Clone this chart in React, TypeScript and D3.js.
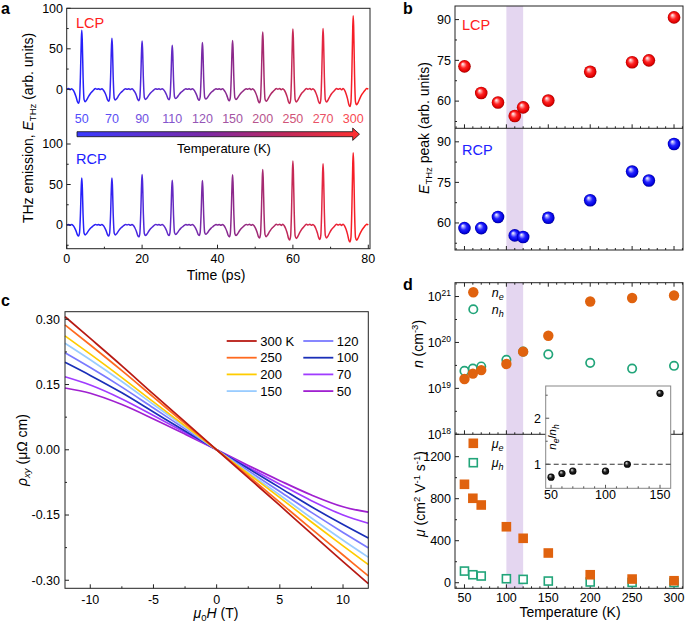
import React from 'react';
import * as d3 from 'd3';

const FONT = '"Liberation Sans", Arial, Helvetica, sans-serif';

// ---------- Panel a data ----------
const pulseTimes = [4, 12, 20, 28, 36, 44, 52, 60, 68, 76];
const tempLabelsA = ['50', '70', '90', '110', '120', '150', '200', '250', '270', '300'];
const lcpPeaks = [72.8, 63, 59.5, 54.5, 57.7, 60.2, 70.8, 74.3, 75, 90.8];
const rcpPeaks = [58.1, 58.1, 62.2, 55.4, 54.8, 61.9, 68.4, 79, 75.7, 89.2];
// single-pulse shape (offset in ps from the peak, value relative to the peak)
const pulseOffsets = [-4, -3.5, -3.1, -2.7, -2.3, -1.9, -1.5, -1.15, -0.85, -0.6, -0.35, -0.12, 0, 0.12, 0.35, 0.6, 0.9, 1.3, 1.8, 2.3, 2.8, 3.2, 3.6, 4];
const pulseShape = [0, 0.012, -0.006, 0.01, -0.012, -0.06, -0.13, -0.21, -0.235, -0.17, 0.25, 0.85, 1, 0.85, 0.2, -0.17, -0.21, -0.18, -0.12, -0.07, -0.035, -0.008, 0.012, 0];

// ---------- Panel b data ----------
const tempsB = [50, 70, 90, 110, 120, 150, 200, 250, 270, 300];
const lcpB = [72.8, 63, 59.5, 54.5, 57.7, 60.2, 70.8, 74.3, 75, 90.8];
const rcpB = [58.1, 58.1, 62.2, 55.4, 54.8, 61.9, 68.4, 79, 75.7, 89.2];

// ---------- Panel c data ----------
const fieldH = [-12, -10, -7.5, -5, -2.5, 0, 2.5, 5, 7.5, 10, 12];
const rhoLabels = ['300 K', '250', '200', '150', '120', '100', '70', '50'];
const rhoColors = ['#b81a14', '#ff6a1f', '#ffcc00', '#99ccff', '#7a7aff', '#1a2fb8', '#a03cff', '#a020d0'];
const rho300 = [0.306, 0.256, 0.193, 0.128, 0.064, 0, -0.064, -0.128, -0.193, -0.257, -0.308];
const rho250 = [0.287, 0.241, 0.182, 0.121, 0.060, 0, -0.060, -0.121, -0.182, -0.242, -0.290];
const rho200 = [0.262, 0.220, 0.166, 0.110, 0.055, 0, -0.055, -0.110, -0.166, -0.221, -0.264];
const rho150 = [0.245, 0.207, 0.157, 0.104, 0.052, 0, -0.052, -0.104, -0.157, -0.208, -0.247];
const rho120 = [0.223, 0.189, 0.144, 0.096, 0.048, 0, -0.048, -0.096, -0.144, -0.190, -0.2255];
const rho100 = [0.201, 0.171, 0.131, 0.087, 0.043, 0, -0.043, -0.087, -0.131, -0.172, -0.203];
const rho70 = [0.168, 0.149, 0.117, 0.079, 0.040, 0, -0.040, -0.079, -0.117, -0.150, -0.169];
const rho50 = [0.142, 0.130, 0.104, 0.071, 0.036, 0, -0.036, -0.071, -0.104, -0.131, -0.1435];
const rhoSeries = [rho300, rho250, rho200, rho150, rho120, rho100, rho70, rho50];

// ---------- Panel d data ----------
const tempsD = [50, 60, 70, 100, 120, 150, 200, 250, 300];
const ne = [1.6e19, 2.1e19, 2.5e19, 3.4e19, 6.3e19, 1.4e20, 7.8e20, 9.3e20, 1.05e21];
const nh = [2.4e19, 2.7e19, 3.0e19, 4.2e19, 6.3e19, 5.5e19, 3.6e19, 2.7e19, 3.1e19];
const mue = [937, 804, 740, 533, 423, 283, 76, 35, 19];
const muh = [111, 76, 64, 38, 32, 16, 7, 3, 2];
const tempsInset = [50, 60, 70, 100, 120, 150];
const ratioInset = [0.72, 0.8, 0.85, 0.85, 1.0, 2.54];

const ORANGE = '#e0620e';
const GREEN = '#22a57a';

function range(a: number, b: number, s: number) {
  const out: number[] = [];
  for (let v = a; v <= b + 1e-9; v += s) out.push(+v.toFixed(6));
  return out;
}

function buildTrace(peaks: number[]) {
  const pts: [number, number][] = [];
  pulseTimes.forEach((t0, i) => {
    pulseOffsets.forEach((o, j) => {
      if (i > 0 && j === 0) return;
      pts.push([t0 + o, peaks[i] * pulseShape[j]]);
    });
  });
  return pts;
}

const gradStops: [number, string][] = [
  [0, '#1f1fff'], [0.15, '#3322f0'], [0.3, '#5a2ad0'], [0.45, '#7a2aa4'],
  [0.6, '#962a7e'], [0.72, '#bb2a5c'], [0.85, '#e42640'], [1, '#ff1a1a'],
];
const gradInterp = d3.scaleLinear<string>().domain(gradStops.map(s => s[0])).range(gradStops.map(s => s[1])).interpolate(d3.interpolateRgb);

export default function App() {
  // Panel a scales
  const xA = d3.scaleLinear().domain([0, 80]).range([66.7, 368.3]);
  const yAu = d3.scaleLinear().domain([0, 100]).range([89.3, 8.3]);
  const yAl = d3.scaleLinear().domain([0, 100]).range([225, 144]);
  const lineAu = d3.line<[number, number]>().x(d => xA(d[0])).y(d => yAu(d[1])).curve(d3.curveMonotoneX);
  const lineAl = d3.line<[number, number]>().x(d => xA(d[0])).y(d => yAl(d[1])).curve(d3.curveMonotoneX);
  const traceL = buildTrace(lcpPeaks);
  const traceR = buildTrace(rcpPeaks);
  const aL = 66.7, aR = 370, aT = 8.3, aB = 248.7;

  // Panel b scales
  const xB = d3.scaleLinear().domain([38.7, 310.7]).range([455, 683]);
  const yBu = d3.scaleLinear().domain([50, 95]).range([128.3, 6]);
  const yBl = d3.scaleLinear().domain([50, 95]).range([250, 128.3]);

  // Panel c scales
  const xC = d3.scaleLinear().domain([-12, 12]).range([65, 368.3]);
  const yC = d3.scaleLinear().domain([-0.3185, 0.3175]).range([588.3, 311.7]);
  const lineC = d3.line<number>().x((_, i) => xC(fieldH[i])).y(d => yC(d)).curve(d3.curveMonotoneX);

  // Panel d scales
  const xD = xB;
  const yDn = d3.scaleLog().domain([1e18, 2e21]).range([434.3, 282.7]);
  const yDm = d3.scaleLinear().domain([-53, 1413]).range([588.3, 434.3]);
  const xI = d3.scaleLinear().domain([45.1, 159.8]).range([545.7, 670.7]);
  const yI = d3.scaleLinear().domain([0.478, 2.7]).range([488.3, 386]);

  const tickX10 = range(40, 310, 10);
  const tk = (v: number) => (v % 50 === 0 ? 4 : 2);

  const stroke = '#222';
  const fs = 12.5;

  return (
    <svg width={685} height={623} style={{ position: 'absolute', left: 0, top: 0, background: '#fff' }} fontFamily={FONT}>
      <defs>
        <linearGradient id="tgrad" gradientUnits="userSpaceOnUse" x1={xA(0)} x2={xA(80)} y1={0} y2={0}>
          {gradStops.map(([o, c], i) => <stop key={i} offset={o} stopColor={c} />)}
        </linearGradient>
        <linearGradient id="agrad" gradientUnits="userSpaceOnUse" x1={77} x2={359} y1={0} y2={0}>
          <stop offset={0} stopColor="#3a3aff" />
          <stop offset={0.45} stopColor="#7a2aa8" />
          <stop offset={0.75} stopColor="#c42a5a" />
          <stop offset={1} stopColor="#ff3030" />
        </linearGradient>
        <radialGradient id="sphRed" cx="0.5" cy="0.5" r="0.5" fx="0.35" fy="0.3">
          <stop offset={0} stopColor="#ffffff" />
          <stop offset={0.18} stopColor="#ffb0b0" />
          <stop offset={0.5} stopColor="#ff2424" />
          <stop offset={0.85} stopColor="#e00000" />
          <stop offset={1} stopColor="#a00000" />
        </radialGradient>
        <radialGradient id="sphBlue" cx="0.5" cy="0.5" r="0.5" fx="0.35" fy="0.3">
          <stop offset={0} stopColor="#ffffff" />
          <stop offset={0.18} stopColor="#b0b0ff" />
          <stop offset={0.5} stopColor="#2424ff" />
          <stop offset={0.85} stopColor="#0000dd" />
          <stop offset={1} stopColor="#000090" />
        </radialGradient>
        <radialGradient id="sphBlack" cx="0.5" cy="0.5" r="0.5" fx="0.35" fy="0.3">
          <stop offset={0} stopColor="#ffffff" />
          <stop offset={0.2} stopColor="#999" />
          <stop offset={0.5} stopColor="#222" />
          <stop offset={1} stopColor="#000" />
        </radialGradient>
      </defs>

      {/* ================= Panel a ================= */}
      <text x={1} y={14} fontSize={16} fontWeight="bold">a</text>
      <path d={lineAu(traceL) || ''} fill="none" stroke="url(#tgrad)" strokeWidth={1.5} />
      <path d={lineAl(traceR) || ''} fill="none" stroke="url(#tgrad)" strokeWidth={1.5} />
      <rect x={aL} y={aT} width={aR - aL} height={aB - aT} fill="none" stroke={stroke} strokeWidth={1} />
      {[100, 50, 0].map(v => (
        <g key={'au' + v}>
          <line x1={aL} x2={aL + 4} y1={yAu(v)} y2={yAu(v)} stroke={stroke} />
          <text x={63} y={yAu(v)} dy="0.35em" textAnchor="end" fontSize={fs}>{v}</text>
          <line x1={aL} x2={aL + 4} y1={yAl(v)} y2={yAl(v)} stroke={stroke} />
          <text x={63} y={yAl(v)} dy="0.35em" textAnchor="end" fontSize={fs}>{v}</text>
        </g>
      ))}
      {[75, 25].map(v => <line key={'amu' + v} x1={aL} x2={aL + 2} y1={yAu(v)} y2={yAu(v)} stroke={stroke} />)}
      {[75, 25, -25].map(v => <line key={'aml' + v} x1={aL} x2={aL + 2} y1={yAl(v)} y2={yAl(v)} stroke={stroke} />)}
      {range(0, 80, 10).map(v => (
        <g key={'ax' + v}>
          <line x1={xA(v)} x2={xA(v)} y1={aB} y2={aB - (v % 20 === 0 ? 4 : 2)} stroke={stroke} />
          {v % 20 === 0 && <text x={xA(v)} y={263} textAnchor="middle" fontSize={fs}>{v}</text>}
        </g>
      ))}
      <text x={216} y={280} textAnchor="middle" fontSize={14}>Time (ps)</text>
      <text transform="translate(33,128) rotate(-90)" textAnchor="middle" fontSize={14}>
        THz emission, <tspan fontStyle="italic">E</tspan><tspan dy={3} fontSize={9.5}>THz</tspan><tspan dy={-3}> (arb. units)</tspan>
      </text>
      <text x={76} y={27.5} fontSize={14.5} fill="#ff2020">LCP</text>
      <text x={76} y={163.5} fontSize={14.5} fill="#2020ff">RCP</text>
      {tempLabelsA.map((t, i) => (
        <text key={'tl' + t} x={xA(pulseTimes[i])} y={122.7} textAnchor="middle" fontSize={12.5}
          fill={d3.interpolateRgb(gradInterp(pulseTimes[i] / 80), '#ffffff')(0.2)}>{t}</text>
      ))}
      <path d="M77,131.7 L352.7,131.7 L352.7,128 L359.5,134.2 L352.7,140.4 L352.7,136.7 L77,136.7 Z" fill="url(#agrad)" stroke="#111" strokeWidth={0.8} />
      <text x={224} y={153} textAnchor="middle" fontSize={13}>Temperature (K)</text>

      {/* ================= Panel b ================= */}
      <text x={403} y={14} fontSize={16} fontWeight="bold">b</text>
      <rect x={xB(100)} y={6} width={xB(120) - xB(100)} height={250 - 6} fill="#e4d6f0" />
      <rect x={455} y={6} width={683 - 455} height={250 - 6} fill="none" stroke={stroke} />
      <line x1={455} x2={683} y1={128.3} y2={128.3} stroke={stroke} />
      {tickX10.map(v => (
        <g key={'bx' + v}>
          <line x1={xB(v)} x2={xB(v)} y1={128.3} y2={128.3 - tk(v)} stroke={stroke} />
          <line x1={xB(v)} x2={xB(v)} y1={250} y2={250 - tk(v)} stroke={stroke} />
        </g>
      ))}
      {[90, 75, 60].map(v => (
        <g key={'by' + v}>
          <line x1={455} x2={459} y1={yBu(v)} y2={yBu(v)} stroke={stroke} />
          <text x={451} y={yBu(v)} dy="0.35em" textAnchor="end" fontSize={fs}>{v}</text>
          <line x1={455} x2={459} y1={yBl(v)} y2={yBl(v)} stroke={stroke} />
          <text x={451} y={yBl(v)} dy="0.35em" textAnchor="end" fontSize={fs}>{v}</text>
        </g>
      ))}
      {[82.5, 67.5, 52.5].map(v => (
        <g key={'bym' + v}>
          <line x1={455} x2={457} y1={yBu(v)} y2={yBu(v)} stroke={stroke} />
          <line x1={455} x2={457} y1={yBl(v)} y2={yBl(v)} stroke={stroke} />
        </g>
      ))}
      {tempsB.map((t, i) => <circle key={'bl' + t} cx={xB(t)} cy={yBu(lcpB[i])} r={6.3} fill="url(#sphRed)" />)}
      {tempsB.map((t, i) => <circle key={'br' + t} cx={xB(t)} cy={yBl(rcpB[i])} r={6.3} fill="url(#sphBlue)" />)}
      <text x={462} y={30} fontSize={14.5} fill="#ff2020">LCP</text>
      <text x={462} y={155} fontSize={14.5} fill="#2020ff">RCP</text>
      <text transform="translate(429,128) rotate(-90)" textAnchor="middle" fontSize={14}>
        <tspan fontStyle="italic">E</tspan><tspan dy={3} fontSize={9.5}>THz</tspan><tspan dy={-3}> peak (arb. units)</tspan>
      </text>

      {/* ================= Panel c ================= */}
      <text x={1} y={306} fontSize={16} fontWeight="bold">c</text>
      {rhoSeries.map((s, i) => i).reverse().map(i => (
        <path key={'rc' + i} d={lineC(rhoSeries[i]) || ''} fill="none" stroke={rhoColors[i]} strokeWidth={1.7} />
      ))}
      <rect x={65} y={311.7} width={368.3 - 65} height={588.3 - 311.7} fill="none" stroke={stroke} />
      {[0.3, 0.15, 0, -0.15, -0.3].map(v => (
        <g key={'cy' + v}>
          <line x1={65} x2={69} y1={yC(v)} y2={yC(v)} stroke={stroke} />
          <text x={60} y={yC(v)} dy="0.35em" textAnchor="end" fontSize={fs}>{v.toFixed(2)}</text>
        </g>
      ))}
      {[0.225, 0.075, -0.075, -0.225].map(v => <line key={'cym' + v} x1={65} x2={67} y1={yC(v)} y2={yC(v)} stroke={stroke} />)}
      {[-10, -7.5, -5, -2.5, 0, 2.5, 5, 7.5, 10].map(v => (
        <g key={'cx' + v}>
          <line x1={xC(v)} x2={xC(v)} y1={588.3} y2={588.3 - (v % 5 === 0 ? 4 : 2)} stroke={stroke} />
          {v % 5 === 0 && <text x={xC(v)} y={604} textAnchor="middle" fontSize={fs}>{v}</text>}
        </g>
      ))}
      <text x={216} y={618} textAnchor="middle" fontSize={14}>
        <tspan fontStyle="italic">μ</tspan><tspan dy={3} fontSize={9.5}>0</tspan><tspan dy={-3} fontStyle="italic">H</tspan> (T)
      </text>
      <text transform="translate(27,450) rotate(-90)" textAnchor="middle" fontSize={14}>
        <tspan fontStyle="italic">ρ</tspan><tspan dy={3} fontSize={9.5} fontStyle="italic">xy</tspan><tspan dy={-3}> (μΩ cm)</tspan>
      </text>
      {rhoLabels.map((lab, i) => {
        const col = i < 4 ? 0 : 1;
        const row = i % 4;
        const x0 = col === 0 ? 226.7 : 303.3;
        const y0 = 341 + row * 16.7;
        return (
          <g key={'lg' + i}>
            <line x1={x0} x2={x0 + 30} y1={y0} y2={y0} stroke={rhoColors[i]} strokeWidth={1.8} />
            <text x={x0 + 33.5} y={y0} dy="0.36em" fontSize={13}>{lab}</text>
          </g>
        );
      })}

      {/* ================= Panel d ================= */}
      <text x={403} y={290} fontSize={16} fontWeight="bold">d</text>
      <rect x={xD(100)} y={282.7} width={xD(120) - xD(100)} height={588.3 - 282.7} fill="#e4d6f0" />
      <rect x={455} y={282.7} width={683 - 455} height={588.3 - 282.7} fill="none" stroke={stroke} />
      <line x1={455} x2={683} y1={434.3} y2={434.3} stroke={stroke} />
      {tickX10.map(v => (
        <g key={'dx' + v}>
          <line x1={xD(v)} x2={xD(v)} y1={282.7} y2={282.7 + tk(v)} stroke={stroke} />
          <line x1={xD(v)} x2={xD(v)} y1={434.3} y2={434.3 - tk(v)} stroke={stroke} />
          <line x1={xD(v)} x2={xD(v)} y1={588.3} y2={588.3 - tk(v)} stroke={stroke} />
          {v % 50 === 0 && <text x={xD(v)} y={602} textAnchor="middle" fontSize={fs}>{v}</text>}
        </g>
      ))}
      {[18, 19, 20, 21].map(p => (
        <g key={'dn' + p}>
          <line x1={455} x2={459} y1={yDn(Math.pow(10, p))} y2={yDn(Math.pow(10, p))} stroke={stroke} />
          <text x={451} y={yDn(Math.pow(10, p))} dy="0.35em" textAnchor="end" fontSize={fs}>
            10<tspan dy={-5} fontSize={8.5}>{p}</tspan>
          </text>
        </g>
      ))}
      {[18.5, 19.5, 20.5].map(p => <line key={'dnm' + p} x1={455} x2={457} y1={yDn(Math.pow(10, p))} y2={yDn(Math.pow(10, p))} stroke={stroke} />)}
      {[0, 400, 800, 1200].map(v => (
        <g key={'dm' + v}>
          <line x1={455} x2={459} y1={yDm(v)} y2={yDm(v)} stroke={stroke} />
          <text x={451} y={yDm(v)} dy="0.35em" textAnchor="end" fontSize={fs}>{v}</text>
        </g>
      ))}
      {[200, 600, 1000].map(v => <line key={'dmm' + v} x1={455} x2={457} y1={yDm(v)} y2={yDm(v)} stroke={stroke} />)}
      {tempsD.map((t, i) => <circle key={'nh' + t} cx={xD(t)} cy={yDn(nh[i])} r={4.2} fill="#fff" stroke={GREEN} strokeWidth={1.7} />)}
      {tempsD.map((t, i) => <circle key={'ne' + t} cx={xD(t)} cy={yDn(ne[i])} r={5.2} fill={ORANGE} />)}
      {tempsD.map((t, i) => <rect key={'muh' + t} x={xD(t) - 4} y={yDm(muh[i]) - 4} width={8} height={8} fill="#fff" stroke={GREEN} strokeWidth={1.6} />)}
      {tempsD.map((t, i) => <rect key={'mue' + t} x={xD(t) - 4.8} y={yDm(mue[i]) - 4.8} width={9.6} height={9.6} fill={ORANGE} />)}
      <circle cx={473.3} cy={292.3} r={5.2} fill={ORANGE} />
      <text x={491.7} y={296.5} fontSize={12.5}><tspan fontStyle="italic">n</tspan><tspan dy={3} fontSize={9} fontStyle="italic">e</tspan></text>
      <circle cx={473.3} cy={309.3} r={4.2} fill="#fff" stroke={GREEN} strokeWidth={1.7} />
      <text x={491.7} y={313.5} fontSize={12.5}><tspan fontStyle="italic">n</tspan><tspan dy={3} fontSize={9} fontStyle="italic">h</tspan></text>
      <rect x={473.3 - 4.8} y={443.3 - 4.8} width={9.6} height={9.6} fill={ORANGE} />
      <text x={491.7} y={447.5} fontSize={12.5}><tspan fontStyle="italic">μ</tspan><tspan dy={3} fontSize={9} fontStyle="italic">e</tspan></text>
      <rect x={473.3 - 4} y={462.7 - 4} width={8} height={8} fill="#fff" stroke={GREEN} strokeWidth={1.6} />
      <text x={491.7} y={467} fontSize={12.5}><tspan fontStyle="italic">μ</tspan><tspan dy={3} fontSize={9} fontStyle="italic">h</tspan></text>
      <text transform="translate(423,344) rotate(-90)" textAnchor="middle" fontSize={14}>
        <tspan fontStyle="italic">n</tspan> (cm<tspan dy={-5} fontSize={9.5}>-3</tspan><tspan dy={5}>)</tspan>
      </text>
      <text transform="translate(425,494) rotate(-90)" textAnchor="middle" fontSize={14}>
        <tspan fontStyle="italic">μ</tspan> (cm<tspan dy={-5} fontSize={9.5}>2</tspan><tspan dy={5}> V</tspan><tspan dy={-5} fontSize={9.5}>-1</tspan><tspan dy={5}> s</tspan><tspan dy={-5} fontSize={9.5}>-1</tspan><tspan dy={5}>)</tspan>
      </text>
      <text x={570} y={616.5} textAnchor="middle" fontSize={14}>Temperature (K)</text>

      {/* inset */}
      <rect x={545.7} y={386} width={670.7 - 545.7} height={488.3 - 386} fill="#fff" stroke="#888" strokeWidth={1} />
      <line x1={545.7} x2={670.7} y1={yI(1)} y2={yI(1)} stroke="#333" strokeWidth={1.1} strokeDasharray="5,3" />
      {range(50, 150, 10).map(v => (
        <g key={'ix' + v}>
          <line x1={xI(v)} x2={xI(v)} y1={488.3} y2={488.3 - (v % 50 === 0 ? 3.5 : 2)} stroke="#555" />
          {v % 50 === 0 && <text x={xI(v)} y={498.5} textAnchor="middle" fontSize={fs}>{v}</text>}
        </g>
      ))}
      {[1, 2].map(v => (
        <g key={'iy' + v}>
          <line x1={545.7} x2={549.2} y1={yI(v)} y2={yI(v)} stroke="#555" />
          <text x={541} y={yI(v)} dy="0.35em" textAnchor="end" fontSize={fs}>{v}</text>
        </g>
      ))}
      {[1.5, 2.5].map(v => <line key={'iym' + v} x1={545.7} x2={547.7} y1={yI(v)} y2={yI(v)} stroke="#555" />)}
      <text transform="translate(556,437) rotate(-90)" textAnchor="middle" fontSize={11.5}>
        <tspan fontStyle="italic">n</tspan><tspan dy={2.5} fontSize={8.5} fontStyle="italic">e</tspan><tspan dy={-2.5}>/</tspan><tspan fontStyle="italic">n</tspan><tspan dy={2.5} fontSize={8.5} fontStyle="italic">h</tspan>
      </text>
      {tempsInset.map((t, i) => <circle key={'ir' + t} cx={xI(t)} cy={yI(ratioInset[i])} r={3.6} fill="url(#sphBlack)" />)}
    </svg>
  );
}
